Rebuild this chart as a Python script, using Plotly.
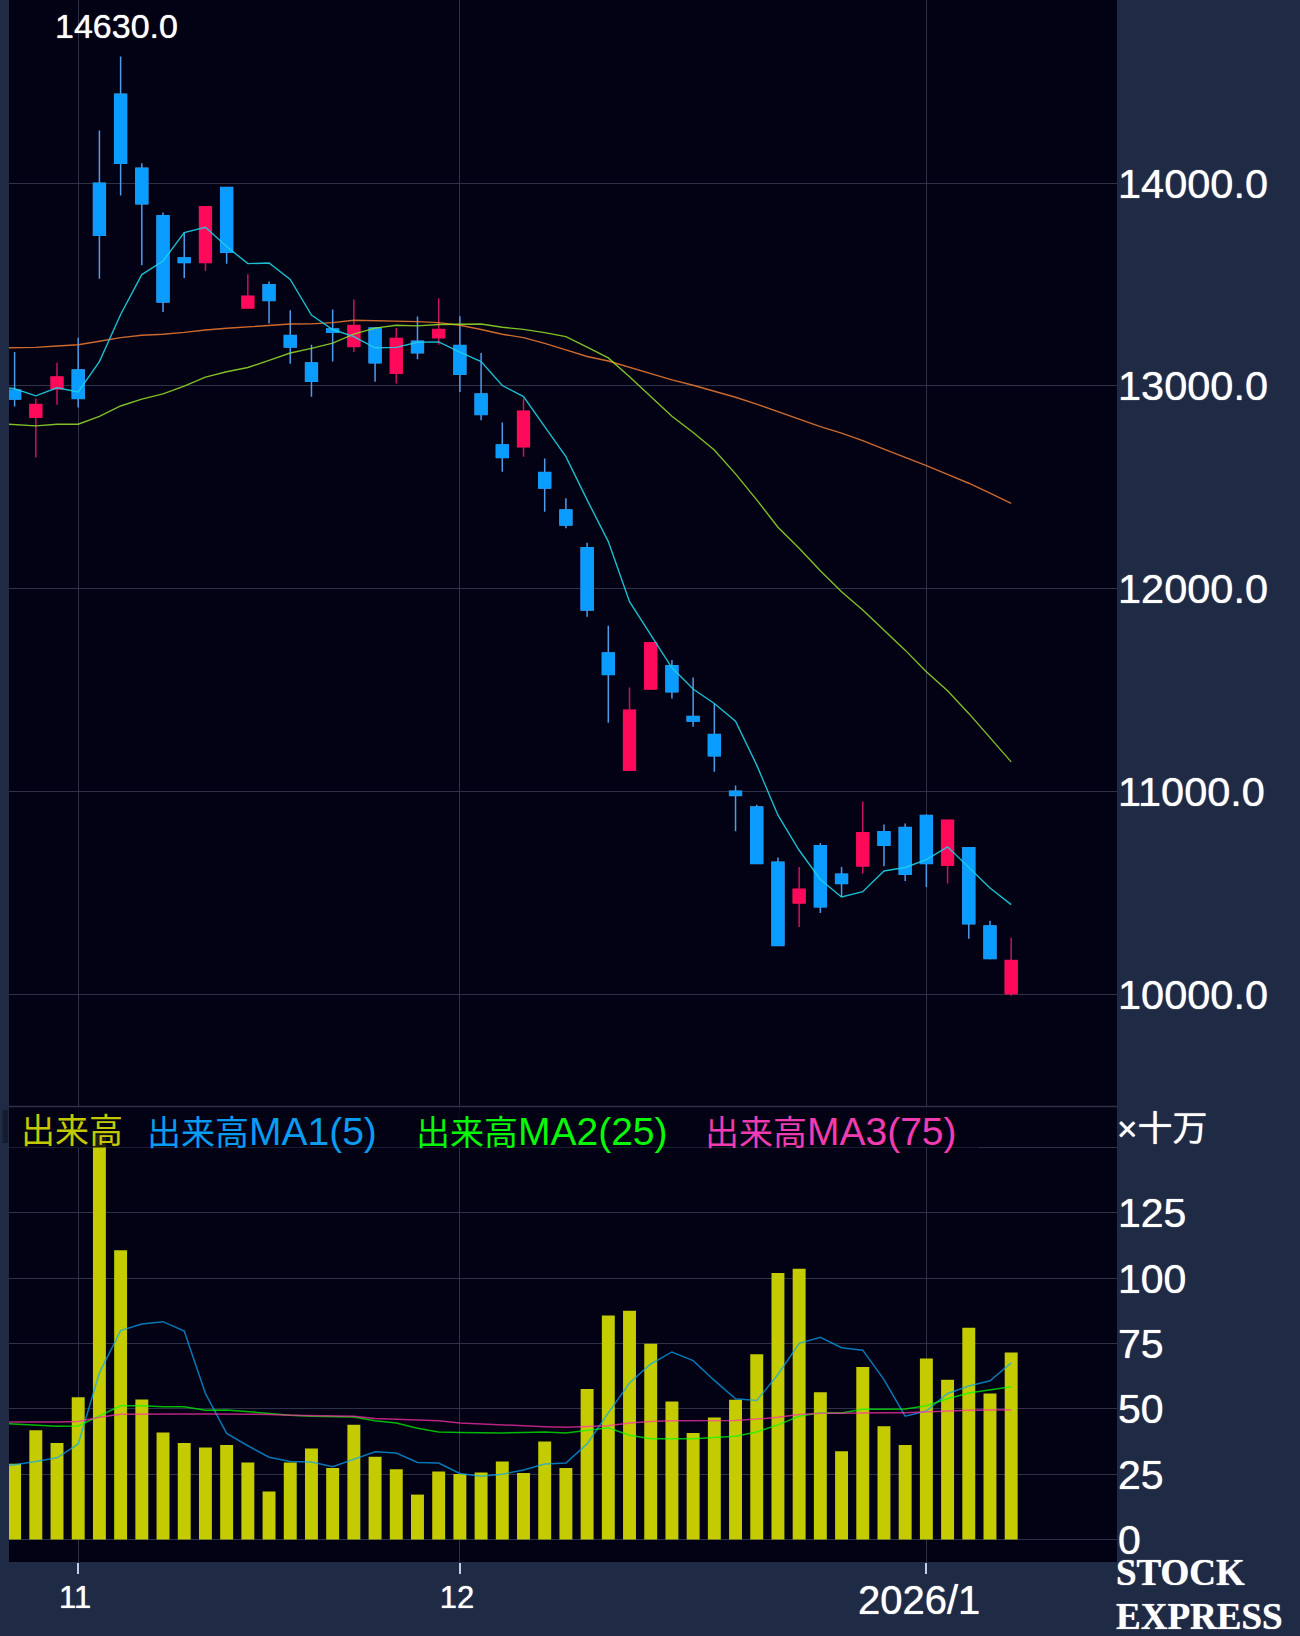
import plotly.graph_objects as go

index = list(range(48))
ma_index = [-1] + index
tick_index = [3, 21, 43]
tick_labels = ["11", "12", ""]
year_label = "2026/1"

open_p = [12979,12845,12986,13079,13999,14438,14073,13839,13631,13608,13978,13384,13499,13248,13113,13280,
          13194,13285,13063,13220,13238,13199,12960,12709,12700,12573,12388,12202,11683,11105,11505,11620,
          11370,11281,11001,10923,10651,10450,10732,10592,10633,10802,10822,10881,10636,10723,10337,10003]
high_p = [13167,12938,13114,13238,14260,14624,14098,13855,13758,13883,13980,13550,13515,13373,13203,13377,
          13426,13285,13285,13342,13432,13343,13162,12820,12938,12642,12446,12227,11817,11513,11734,11648,
          11562,11434,11029,10934,10674,10628,10746,10628,10950,10837,10842,10888,10862,10724,10362,10279]
low_p = [12898,12647,12907,12894,13529,13939,13595,13364,13532,13567,13602,13384,13308,13109,12947,13120,
         13167,13021,13012,13132,13203,12970,12831,12577,12651,12380,12298,11862,11339,11105,11505,11459,
         11319,11097,10804,10641,10241,10332,10401,10480,10595,10631,10559,10529,10546,10274,10171,9993]
close_p = [12935,12908,13044,12938,13743,14098,13898,13414,13608,13883,13659,13442,13421,13192,13023,13264,
           13298,13114,13234,13164,13278,13058,12859,12647,12875,12496,12314,11895,11577,11401,11734,11492,
           11347,11176,10980,10645,10241,10518,10431,10546,10797,10735,10592,10645,10858,10348,10176,10166]

price_ma5 = [13000,12986,12951,12991,12970,13120,13352,13549,13616,13756,13782,13687,13603,13606,13525,13349,13278,
             13243,13188,13190,13215,13217,13167,13120,13002,12947,12799,12651,12438,12232,11936,11771,11610,
             11505,11434,11347,11130,10883,10710,10566,10480,10506,10608,10625,10664,10727,10628,10524,10442]
price_ma25 = [12815,12810,12803,12811,12811,12850,12901,12935,12961,12999,13043,13070,13091,13126,13162,13185,13211,
              13255,13285,13299,13296,13303,13303,13305,13289,13279,13263,13243,13191,13138,13045,12950,12850,
              12770,12684,12566,12438,12303,12199,12089,11985,11895,11796,11697,11590,11497,11385,11266,11146]
price_ma75 = [13187,13188,13190,13197,13203,13220,13238,13250,13255,13264,13276,13284,13291,13299,13305,13306,13312,
              13324,13322,13321,13317,13312,13299,13278,13255,13238,13210,13178,13145,13123,13092,13062,13030,
              13003,12975,12944,12910,12873,12836,12799,12767,12730,12688,12648,12607,12564,12520,12471,12421]

volume = [29,41.8,37,54.5,155,110.7,53.6,41,37,35.2,36.2,29.5,18.4,29.5,34.8,27.4,
          43.9,31.7,26.9,17.2,26,25.1,25.7,29.9,25.5,37.5,27.4,57.6,85.8,87.6,74.9,52.8,
          40.8,46.7,53.5,70.9,102,103.7,56.4,33.8,66,43.4,36.2,69.3,61.2,81.1,55.9,71.6]
vol_ma5 = [27.8,28.6,29.9,31.3,36.6,63.8,80,82.5,83.4,79.8,55.9,40.6,35.9,31.5,29.9,29.7,27.9,
           30.9,33.6,33.1,29.5,29.3,25.3,24.2,25,26.6,28.9,29.3,36.6,48.5,59.9,67.2,71.8,
           68.5,60.9,53.9,53.2,63.2,75.1,77.4,73.4,72.5,61.2,47.2,49.2,55.9,58.8,60.8,67.6]
vol_ma25 = [44.6,44.2,43.6,43.4,43.5,47.2,51.2,51.2,50.8,50.8,49.5,49.6,48.9,48.1,47.6,47.2,47.1,
            46.9,45.5,44.6,42.6,41.2,41,40.8,40.8,41,41.2,40.8,41.9,42.8,39.9,38.6,38.6,
            38.6,39.1,39.5,41.2,43.9,47.2,48.5,48.4,49.9,49.9,50,51.2,53.9,56.1,57.2,58.5]
vol_ma75 = [45,45,44.9,45,45.2,46.8,48,48.1,48.1,48.1,48.1,48.1,48.1,47.9,47.6,47.5,47.5,
            47.2,46.3,46,45.6,45.5,44.6,44.2,43.8,43.5,43.2,43,43.2,43.6,44.6,45.2,45.5,
            45.5,45.5,45.6,46.1,46.8,47.9,48.3,48.3,48.5,48.5,48.5,48.9,49.2,49.5,49.6,49.7]

price_ticks = [10000, 11000, 12000, 13000, 14000]
volume_ticks = [0, 25, 50, 75, 100, 125, 150]
volume_labels = ["0", "25", "50", "75", "100", "125", ""]
legend_prefix = "出来高"
legend_suffix = ["", "MA1(5)", "MA2(25)", "MA3(75)"]
legend_colors = ["#c4c800", "#0a9cf0", "#08f808", "#f03cb0"]
high_label = "14630.0"
unit_label = "×十万"
brand_labels = ["STOCK", "EXPRESS"]

W, H = 1300, 1636
PL, PR, PB = 9, 1117, 1562
SPLIT = 1106.4
PAPER = "#1f2a44"
PLOT = "#020214"
GRID = "#2d3249"
SANS = "Liberation Sans, Noto Sans CJK JP, sans-serif"
SERIF = "Liberation Serif, serif"
HALO = "0 0 1px #ffffff"


def px(x):
    return (x - PL) / (PR - PL)


def py(y):
    return 1 - y / PB


fig = go.Figure()

# full candle (wick colours)
fig.add_trace(go.Candlestick(
    x=index, open=open_p, high=high_p, low=low_p, close=close_p, xaxis="x", yaxis="y",
    increasing=dict(line=dict(color="#c8145a", width=1.5), fillcolor="#ff0a5a"),
    decreasing=dict(line=dict(color="#4f9be8", width=1.5), fillcolor="#0a9cff"),
    whiskerwidth=0, showlegend=False, hoverinfo="skip"))
# bright body on top
body_high = [max(o, c) for o, c in zip(open_p, close_p)]
body_low = [min(o, c) for o, c in zip(open_p, close_p)]
fig.add_trace(go.Candlestick(
    x=index, open=open_p, high=body_high, low=body_low, close=close_p, xaxis="x", yaxis="y",
    increasing=dict(line=dict(color="#ff0a5a", width=1), fillcolor="#ff0a5a"),
    decreasing=dict(line=dict(color="#0a9cff", width=1), fillcolor="#0a9cff"),
    whiskerwidth=0, showlegend=False, hoverinfo="skip"))

for series, color in [(price_ma75, "rgba(240,125,50,0.85)"),
                      (price_ma25, "rgba(150,225,40,0.85)"),
                      (price_ma5, "rgba(30,210,230,0.9)")]:
    fig.add_trace(go.Scatter(x=ma_index, y=series, mode="lines", xaxis="x", yaxis="y",
                             line=dict(color=color, width=1.4), showlegend=False, hoverinfo="skip"))

fig.add_trace(go.Bar(x=index, y=volume, width=0.61, xaxis="x", yaxis="y2",
                     marker=dict(color="#c4cc00", line=dict(width=0)),
                     showlegend=False, hoverinfo="skip"))
for series, color in [(vol_ma5, "rgba(10,165,245,0.72)"),
                      (vol_ma25, "rgba(0,255,0,0.72)"),
                      (vol_ma75, "rgba(255,50,170,0.72)")]:
    fig.add_trace(go.Scatter(x=ma_index, y=series, mode="lines", xaxis="x", yaxis="y2",
                             line=dict(color=color, width=1.5), showlegend=False, hoverinfo="skip"))

annotations = []


def text(x, y, s, size, color="#ffffff", family=SANS, shadow=HALO):
    annotations.append(dict(x=px(x), y=py(y), xref="paper", yref="paper", text=s, showarrow=False,
                            xanchor="left", yanchor="middle",
                            font=dict(size=size, color=color, family=family, shadow=shadow)))


text(53, 26, high_label, 34)
for suffix, c, x in zip(legend_suffix, legend_colors, [19, 145, 414, 703]):
    label = legend_prefix
    if suffix:
        label += f'<span style="font-size:39px">{suffix}</span>'
    text(x, 1131, label, 34, c, shadow="none")
text(1115, 1128, unit_label, 35)
text(1114, 1572, f"<b>{brand_labels[0]}</b>", 37, "#ffffff", SERIF)
text(1114, 1616, f"<b>{brand_labels[1]}</b>", 37, "#ffffff", SERIF)
annotations.append(dict(x=tick_index[2], xref="x", y=py(1600), yref="paper", text=year_label, showarrow=False,
                        xanchor="center", yanchor="middle", xshift=-7,
                        font=dict(size=40, color="#ffffff", family=SANS, shadow=HALO)))

shapes = [
    dict(type="rect", xref="paper", yref="paper", x0=px(PL), x1=px(979), y0=py(1147.5), y1=py(SPLIT),
         fillcolor="rgba(2,2,20,0.85)", line=dict(width=0), layer="above"),
    dict(type="line", xref="paper", yref="paper", x0=px(PL), x1=px(PR), y0=py(SPLIT), y1=py(SPLIT),
         line=dict(color=GRID, width=1.5), layer="above"),
    dict(type="rect", xref="paper", yref="paper", x0=px(2.5), x1=px(8), y0=py(1143), y1=py(1110),
         fillcolor="#151c30", line=dict(width=0), layer="above"),
]

fig.update_layout(
    width=W, height=H, autosize=False,
    margin=dict(l=PL, r=W - PR, t=0, b=H - PB, pad=0),
    paper_bgcolor=PAPER, plot_bgcolor=PLOT,
    showlegend=False, barmode="overlay", boxmode="overlay", boxgap=0.2,
    annotations=annotations, shapes=shapes,
    hovermode=False,
    xaxis=dict(range=[-0.264, 51.99], anchor="y2", tickmode="array", tickvals=tick_index, ticktext=tick_labels,
               showgrid=True, gridcolor=GRID, gridwidth=1.3, zeroline=False, ticks="outside", ticklen=11,
               tickwidth=1.5, tickcolor="#c8cce0", tickfont=dict(size=31, color="#ffffff", family=SANS, shadow=HALO),
               ticklabelshift=-3, ticklabelstandoff=-3, rangeslider=dict(visible=False), showline=False, fixedrange=True),
    yaxis=dict(domain=[1 - SPLIT / PB, 1], range=[9447, 14903], side="right", tickmode="array",
               tickvals=price_ticks, ticktext=[f"{v}.0" for v in price_ticks],
               showgrid=True, gridcolor=GRID, gridwidth=1.3, zeroline=False, ticks="",
               tickfont=dict(size=41.5, color="#ffffff", family=SANS, shadow=HALO), showline=False, fixedrange=True),
    yaxis2=dict(domain=[0, 1 - SPLIT / PB], range=[-8.6, 165.8], side="right", tickmode="array",
                tickvals=volume_ticks, ticktext=volume_labels,
                showgrid=True, gridcolor=GRID, gridwidth=1.3, zeroline=False, ticks="",
                tickfont=dict(size=41, color="#ffffff", family=SANS, shadow=HALO), showline=False, fixedrange=True),
)

fig.write_html("out.html", config=dict(displayModeBar=False),
               post_script="document.body.style.margin='0';document.documentElement.style.background='#1f2a44';")
